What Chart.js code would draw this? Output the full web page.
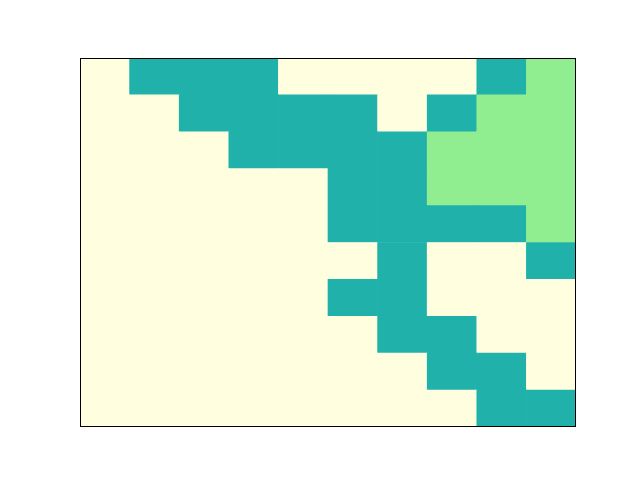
<!DOCTYPE html>
<html>
<head>
<meta charset="utf-8">
<script src="https://cdn.jsdelivr.net/npm/chart.js@4/dist/chart.umd.min.js"></script>
<style>
html,body{margin:0;padding:0;background:#fff;}
#wrap{width:640px;height:480px;}
</style>
</head>
<body>
<div id="wrap"><canvas id="c" width="640" height="480"></canvas></div>
<script>
// Column categories (left to right)
const columns = ['0','1','2','3','4','5','6','7','8','9'];
// Cell classes per row, top row first: 0 = light yellow, 1 = sea green, 2 = light green
const row0 = [0,1,1,1,0,0,0,0,1,2];
const row1 = [0,0,1,1,1,1,0,1,2,2];
const row2 = [0,0,0,1,1,1,1,2,2,2];
const row3 = [0,0,0,0,0,1,1,2,2,2];
const row4 = [0,0,0,0,0,1,1,1,1,2];
const row5 = [0,0,0,0,0,0,1,0,0,1];
const row6 = [0,0,0,0,0,1,1,0,0,0];
const row7 = [0,0,0,0,0,0,1,1,0,0];
const row8 = [0,0,0,0,0,0,0,1,1,0];
const row9 = [0,0,0,0,0,0,0,0,1,1];
const rowsTopToBottom = [row0,row1,row2,row3,row4,row5,row6,row7,row8,row9];
const palette = ['#FFFFE0', '#20B2AA', '#90EE90'];

// Stack from bottom row upward
const datasets = rowsTopToBottom.slice().reverse().map((r, i) => ({
  label: 'row' + (9 - i),
  data: r.map(() => 1),
  backgroundColor: r.map(v => palette[v]),
  borderWidth: 0,
  barPercentage: 1,
  categoryPercentage: 1
}));

const frame = {
  id: 'frame',
  afterDraw(chart) {
    const a = chart.chartArea, ctx = chart.ctx;
    ctx.save();
    ctx.strokeStyle = '#000';
    ctx.lineWidth = 1;
    ctx.strokeRect(Math.round(a.left) + 0.5, Math.round(a.top) + 0.5,
                   Math.round(a.right - a.left) - 1, Math.round(a.bottom - a.top) - 1);
    ctx.restore();
  }
};

new Chart(document.getElementById('c'), {
  type: 'bar',
  data: { labels: columns, datasets },
  options: {
    responsive: false,
    animation: false,
    layout: { padding: { left: 80, right: 64, top: 58, bottom: 53 } },
    plugins: { legend: { display: false }, tooltip: { enabled: false } },
    scales: {
      x: { stacked: true, display: false },
      y: { stacked: true, display: false, min: 0, max: 10 }
    }
  },
  plugins: [frame]
});
</script>
</body>
</html>
